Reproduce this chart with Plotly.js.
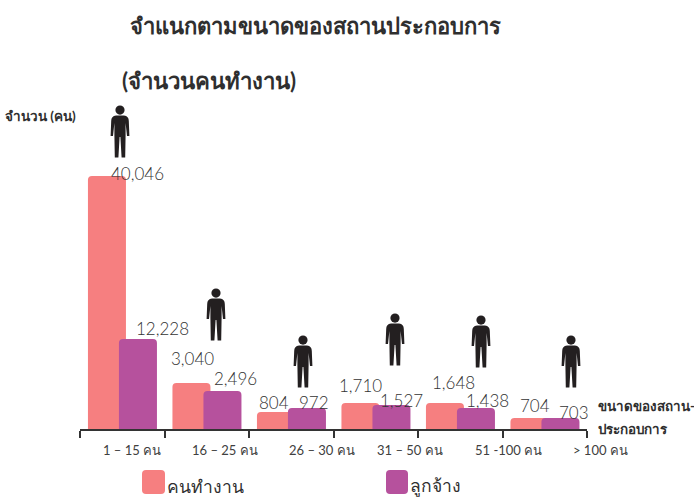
<!DOCTYPE html>
<html><head><meta charset="utf-8">
<script src="https://cdn.plot.ly/plotly-3.0.1.min.js"></script>
<style>html,body{margin:0;padding:0;background:#fff}</style></head>
<body><div id="chart" style="width:694px;height:498px"></div>
<script>
// Categories and printed values
const categories = ["1 – 15 คน","16 – 25 คน","26 – 30 คน","31 – 50 คน","51 -100 คน","> 100 คน"];
const workers = [40046,3040,804,1710,1648,704];
const employees = [12228,2496,972,1527,1438,703];
// Bars in the source are not to a linear scale: their drawn heights
const workersDrawn = [254,47,18,27,27,12];
const employeesDrawn = [91,39,22,25,22,12];
// Label / icon placement, page pixels
const catLabelX = [132,225,322,410,508,600];
const workerLabelX = [137,192,274,360,453,535];
const workerLabelY = [173,358,402,385,382,405];
const employeeLabelX = [162,235,314,401,487,574];
const employeeLabelY = [328,378,402,400,400,412];
const personX = [120,216,303,395,481,571];
const personTop = [105,288,335,313,315,335];

const RED='#F67F80', PURPLE='#B6519D', INK='#333333', DARK='#2f2f2f';
const FONT='Lato, "Noto Sans", sans-serif';
const UNIT=84.5, X0=80, BASE=430, W=694, H=498;
const xOf=px=>-0.5+(px-X0)/UNIT, yOf=py=>BASE-py;
const fmt=v=>v.toLocaleString('en-US');

function bar(name,drawn,values,color,offset){
  return {type:'bar',name,x:categories.map((_,i)=>i),y:drawn,customdata:values,
    width:38/UNIT,offset:offset/UNIT,marker:{color,line:{width:0}},hoverinfo:'skip',showlegend:false};
}
const data=[bar('คนทำงาน',workersDrawn,workers,RED,-34.3),bar('ลูกจ้าง',employeesDrawn,employees,PURPLE,-3.3)];

function note(text,px,py,size,color,anchor,bold,weight){
  const font={size,color,family:FONT};
  if(weight) font.weight=weight;
  return {xref:'x',yref:'y',x:xOf(px),y:yOf(py),text:bold?'<b>'+text+'</b>':text,showarrow:false,
    xanchor:anchor||'center',yanchor:'middle',font};
}
const annotations=[
  note('จำแนกตามขนาดของสถานประกอบการ',315,25,22,DARK,'center',true),
  note('(จำนวนคนทำงาน)',209,80,22.2,DARK,'center',true),
  note('จำนวน (คน)',3,116,13.5,DARK,'left',true),
  note('ขนาดของสถาน-',596,406,13.4,DARK,'left',true),
  note('ประกอบการ',596,429,13.4,DARK,'left',true),
  note('คนทำงาน',165,486,17.5,DARK,'left',false),
  note('ลูกจ้าง',408,486,17.5,DARK,'left',false)
];
categories.forEach((c,i)=>{
  annotations.push(note(c,catLabelX[i],450,13,'#404040'));
  annotations.push(note(fmt(workers[i]),workerLabelX[i],workerLabelY[i],17,INK,'center',false,300));
  annotations.push(note(fmt(employees[i]),employeeLabelX[i],employeeLabelY[i],17,INK,'center',false,300));
});

// Person pictogram in page pixels (centre x, top y)
function person(cx,top){
  const P=(dx,dy)=>xOf(cx+dx)+','+yOf(top+dy);
  const body='M'+[P(-4,10.5),P(4,10.5)].join(' L')+' Q'+P(8.8,11)+' '+P(8.8,16)
    +' L'+P(9.4,31)+' L'+P(7,31)+' L'+P(5.6,18)+' L'+P(5.6,30)+' L'+P(5.2,52.5)+' L'+P(1.6,52.5)+' L'+P(0.4,32)
    +' L'+P(-0.4,32)+' L'+P(-1.6,52.5)+' L'+P(-5.2,52.5)+' L'+P(-5.6,30)+' L'+P(-5.6,18)+' L'+P(-7,31)+' L'+P(-9.4,31)
    +' L'+P(-8.8,16)+' Q'+P(-8.8,11)+' '+P(-4,10.5)+' Z';
  return [
    {type:'path',xref:'x',yref:'y',path:body,fillcolor:'#231f20',line:{width:0}},
    {type:'circle',xref:'x',yref:'y',x0:xOf(cx-4.6),x1:xOf(cx+4.6),y0:yOf(top+0.5),y1:yOf(top+9.7),fillcolor:'#231f20',line:{width:0}}
  ];
}
function swatch(x0,x1,y0,y1,color){
  const r=4,P=(x,y)=>xOf(x)+','+yOf(y);
  return {type:'path',xref:'x',yref:'y',fillcolor:color,line:{width:0},
    path:'M'+P(x0+r,y0)+' L'+P(x1-r,y0)+' Q'+P(x1,y0)+' '+P(x1,y0+r)+' L'+P(x1,y1-r)+' Q'+P(x1,y1)+' '+P(x1-r,y1)
      +' L'+P(x0+r,y1)+' Q'+P(x0,y1)+' '+P(x0,y1-r)+' L'+P(x0,y0+r)+' Q'+P(x0,y0)+' '+P(x0+r,y0)+' Z'};
}
const shapes=[
  {type:'line',xref:'x',yref:'y',x0:-0.5,x1:5.5,y0:0,y1:0,line:{color:'#333',width:2},layer:'above'},
  swatch(142,165,470,494,RED),swatch(386,408,470,494,PURPLE)
];
personX.forEach((x,i)=>shapes.push(...person(x,personTop[i])));

const layout={
  width:W,height:H,margin:{l:0,r:0,t:0,b:0},paper_bgcolor:'#fff',plot_bgcolor:'#fff',
  barmode:'overlay',barcornerradius:4,showlegend:false,
  xaxis:{range:[xOf(0),xOf(W)],anchor:'free',position:(H-BASE)/H,showgrid:false,zeroline:false,showline:false,
    tickmode:'array',tickvals:[-0.5,0.5,1.5,2.5,3.5,4.5,5.5],ticktext:['','','','','','',''],
    ticks:'outside',ticklen:7,tickwidth:2,tickcolor:'#333',fixedrange:true},
  yaxis:{range:[yOf(H),yOf(0)],visible:false,showgrid:false,zeroline:false,fixedrange:true},
  annotations,shapes
};
Plotly.newPlot('chart',data,layout,{displayModeBar:false,staticPlot:true});
</script></body></html>
